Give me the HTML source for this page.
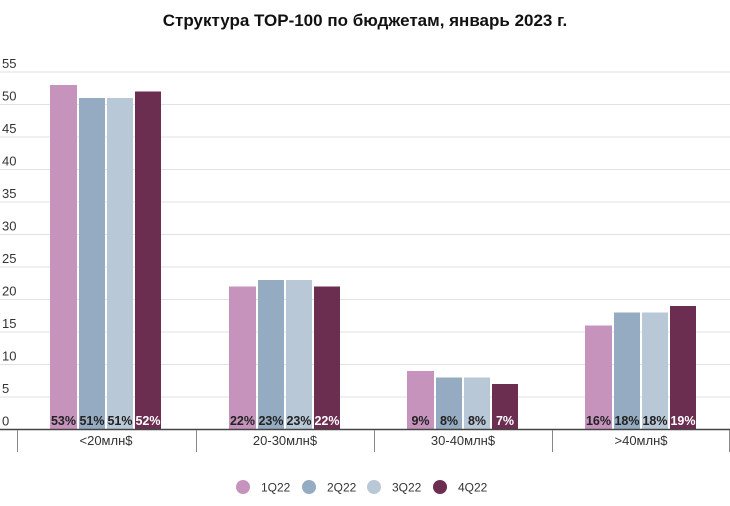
<!DOCTYPE html>
<html><head><meta charset="utf-8"><style>
body{margin:0;background:#fff}
svg text{font-family:"Liberation Sans",sans-serif}
</style></head><body>
<svg width="730" height="501" viewBox="0 0 730 501" xmlns="http://www.w3.org/2000/svg">
<rect width="730" height="501" fill="#fff"/>
<text x="365" y="26" text-anchor="middle" font-size="17" font-weight="bold" fill="#111">Структура ТОР-100 по бюджетам, январь 2023 г.</text>
<g stroke="#e2e2e2" stroke-width="1">
<line x1="0" x2="730" y1="72" y2="72"/><line x1="0" x2="730" y1="104.5" y2="104.5"/><line x1="0" x2="730" y1="137" y2="137"/><line x1="0" x2="730" y1="169.5" y2="169.5"/><line x1="0" x2="730" y1="202" y2="202"/><line x1="0" x2="730" y1="234.5" y2="234.5"/><line x1="0" x2="730" y1="267" y2="267"/><line x1="0" x2="730" y1="299.5" y2="299.5"/><line x1="0" x2="730" y1="332" y2="332"/><line x1="0" x2="730" y1="364.5" y2="364.5"/><line x1="0" x2="730" y1="397" y2="397"/>
</g>
<g font-size="13" fill="#333">
<text x="2" y="68">55</text><text x="2" y="100.5">50</text><text x="2" y="133">45</text><text x="2" y="165.5">40</text><text x="2" y="198">35</text><text x="2" y="230.5">30</text><text x="2" y="263">25</text><text x="2" y="295.5">20</text><text x="2" y="328">15</text><text x="2" y="360.5">10</text><text x="2" y="393">5</text><text x="2" y="425.5">0</text>
</g>
<g id="bars">
<!-- group1 -->
<rect x="50" y="85" width="27" height="344.5" fill="#c693bd"/>
<rect x="79" y="98" width="26" height="331.5" fill="#95abc1"/>
<rect x="107" y="98" width="26" height="331.5" fill="#b8c8d7"/>
<rect x="135" y="91.5" width="26" height="338" fill="#6b2d50"/>
<!-- group2 -->
<rect x="229" y="286.5" width="27" height="143" fill="#c693bd"/>
<rect x="258" y="280" width="26" height="149.5" fill="#95abc1"/>
<rect x="286" y="280" width="26" height="149.5" fill="#b8c8d7"/>
<rect x="314" y="286.5" width="26" height="143" fill="#6b2d50"/>
<!-- group3 -->
<rect x="407" y="371" width="27" height="58.5" fill="#c693bd"/>
<rect x="436" y="377.5" width="26" height="52" fill="#95abc1"/>
<rect x="464" y="377.5" width="26" height="52" fill="#b8c8d7"/>
<rect x="492" y="384" width="26" height="45.5" fill="#6b2d50"/>
<!-- group4 -->
<rect x="585" y="325.5" width="27" height="104" fill="#c693bd"/>
<rect x="614" y="312.5" width="26" height="117" fill="#95abc1"/>
<rect x="642" y="312.5" width="26" height="117" fill="#b8c8d7"/>
<rect x="670" y="306" width="26" height="123.5" fill="#6b2d50"/>
</g>
<g font-size="12.5" font-weight="bold" text-anchor="middle" fill="#222">
<text x="63.5" y="425">53%</text><text x="92" y="425">51%</text><text x="120" y="425">51%</text><text x="148" y="425" fill="#fff">52%</text>
<text x="242.5" y="425">22%</text><text x="271" y="425">23%</text><text x="299" y="425">23%</text><text x="327" y="425" fill="#fff">22%</text>
<text x="420.5" y="425">9%</text><text x="449" y="425">8%</text><text x="477" y="425">8%</text><text x="505" y="425" fill="#fff">7%</text>
<text x="598.5" y="425">16%</text><text x="627" y="425">18%</text><text x="655" y="425">18%</text><text x="683" y="425" fill="#fff">19%</text>
</g>
<line x1="0" x2="730" y1="429.5" y2="429.5" stroke="#444" stroke-width="1.5"/>
<g stroke="#888" stroke-width="1">
<line x1="17.5" x2="17.5" y1="430" y2="452"/><line x1="196.5" x2="196.5" y1="430" y2="452"/><line x1="374.5" x2="374.5" y1="430" y2="452"/><line x1="552.5" x2="552.5" y1="430" y2="452"/><line x1="729.5" x2="729.5" y1="430" y2="452"/>
</g>
<g font-size="13" text-anchor="middle" fill="#333">
<text x="106" y="445">&lt;20млн$</text><text x="285" y="445">20-30млн$</text><text x="463" y="445">30-40млн$</text><text x="641" y="445">&gt;40млн$</text>
</g>
<g font-size="12" fill="#333">
<circle cx="243" cy="487" r="7" fill="#c693bd"/><text x="261" y="491.5">1Q22</text>
<circle cx="309" cy="487" r="7" fill="#95abc1"/><text x="327" y="491.5">2Q22</text>
<circle cx="374" cy="487" r="7" fill="#b8c8d7"/><text x="392" y="491.5">3Q22</text>
<circle cx="440" cy="487" r="7" fill="#6b2d50"/><text x="458" y="491.5">4Q22</text>
</g>
</svg>
</body></html>
